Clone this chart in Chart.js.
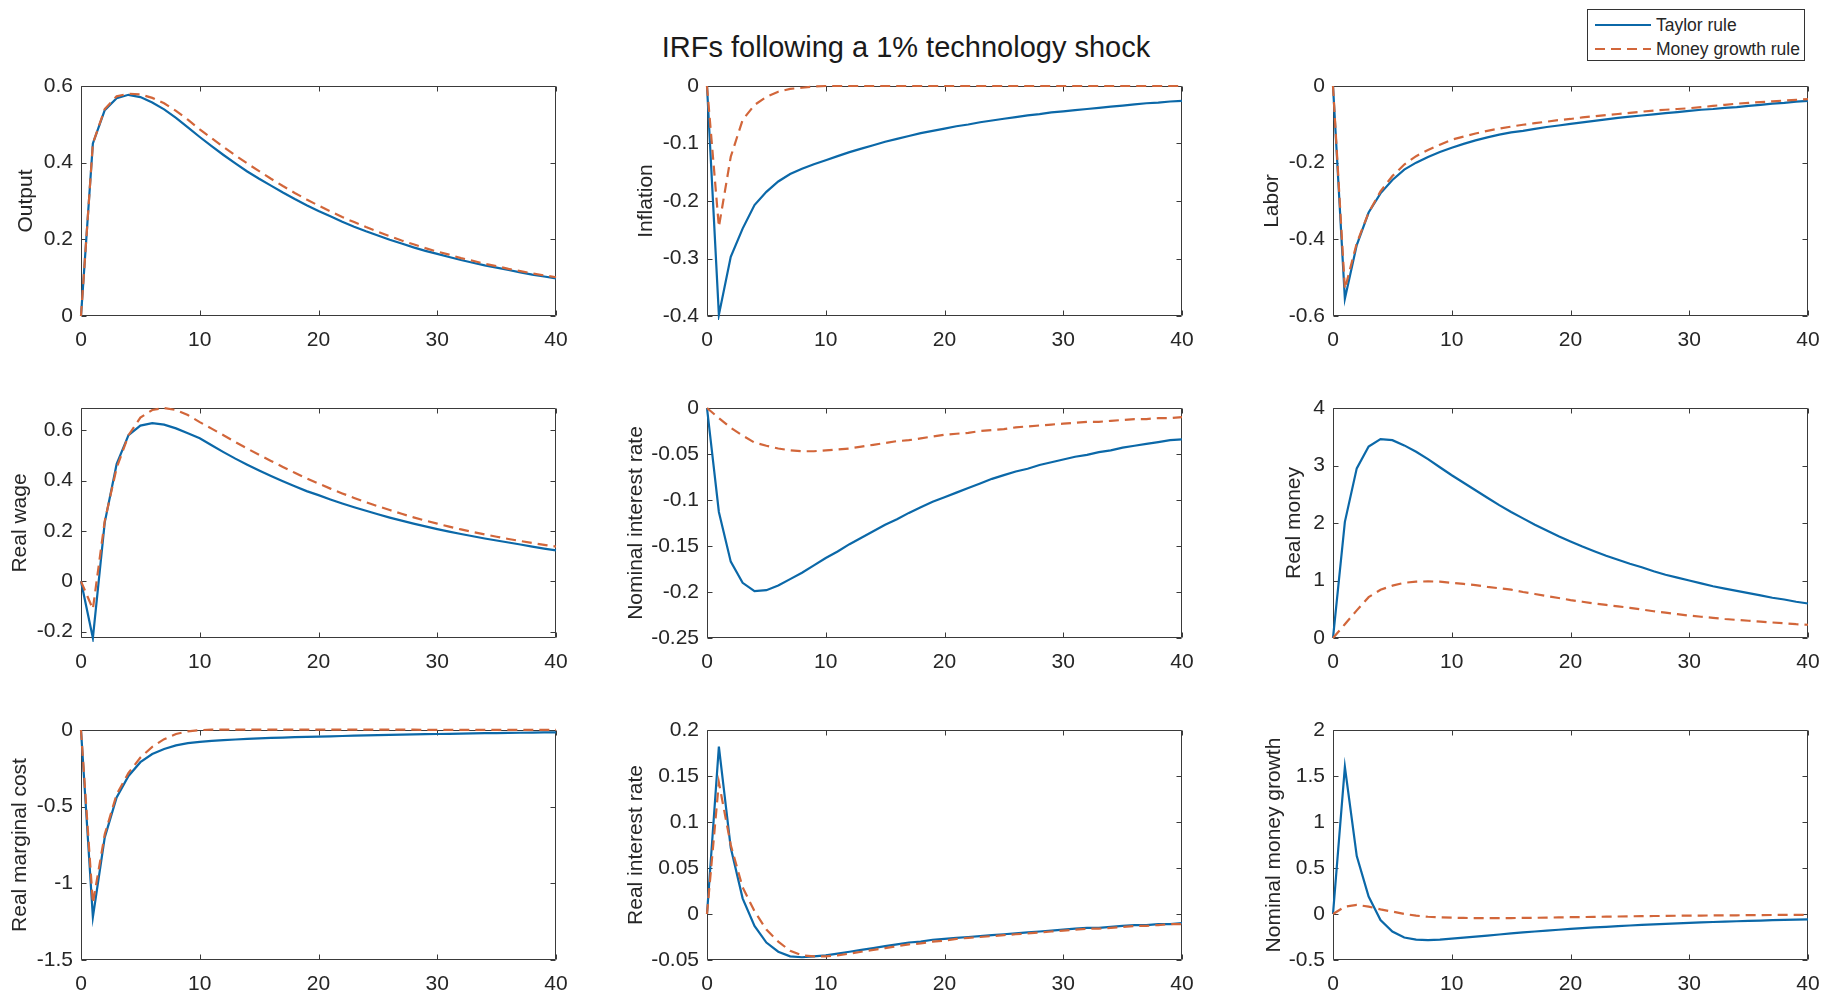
<!DOCTYPE html>
<html>
<head>
<meta charset="utf-8">
<title>IRFs following a 1% technology shock</title>
<script src="https://cdn.jsdelivr.net/npm/chart.js@4.4.1/dist/chart.umd.min.js"></script>
<style>
  html, body { margin: 0; padding: 0; background: #ffffff; }
  #fig { position: relative; width: 1834px; height: 994px; background: #ffffff; overflow: hidden;
         font-family: 'Liberation Sans', Arial, Helvetica, sans-serif; }
  #fig canvas { position: absolute; }
  #title { position: absolute; left: 906px; top: 33px; transform: translateX(-50%);
           font-size: 29px; line-height: 29px; color: #1a1a1a; white-space: nowrap; }
  #legend { position: absolute; left: 1587px; top: 9px; width: 218px; height: 52px;
            border: 1px solid #333333; background: #ffffff; box-sizing: border-box; }
  .lrow { position: absolute; left: 0; height: 20px; width: 216px; }
  .lrow svg { position: absolute; left: 6px; top: 8px; }
  .lrow span { position: absolute; left: 68px; top: 0; font-size: 17.5px; line-height: 20px; color: #262626; white-space: nowrap; }
</style>
</head>
<body>
<div id="fig">
  <div id="title">IRFs following a 1% technology shock</div>
  <div id="legend">
    <div class="lrow" style="top:5px">
      <svg width="58" height="4"><line x1="1" y1="2" x2="57" y2="2" stroke="#0b68a8" stroke-width="2.2"/></svg>
      <span>Taylor rule</span>
    </div>
    <div class="lrow" style="top:29px">
      <svg width="58" height="4"><line x1="1" y1="2" x2="57" y2="2" stroke="#d2663a" stroke-width="2.2" stroke-dasharray="10 6"/></svg>
      <span>Money growth rule</span>
    </div>
  </div>
</div>
<script>
// ---------------- data ----------------
const periods = [0,1,2,3,4,5,6,7,8,9,10,11,12,13,14,15,16,17,18,19,20,21,22,23,24,25,26,27,28,29,30,31,32,33,34,35,36,37,38,39,40];
const xTickValues = [0, 10, 20, 30, 40];
const seriesNames = ['Taylor rule', 'Money growth rule'];

const outputTaylor = [0,0.45,0.537,0.568,0.577,0.571,0.557,0.539,0.517,0.492,0.467,0.443,0.42,0.398,0.377,0.358,0.34,0.322,0.305,0.289,0.274,0.26,0.246,0.233,0.221,0.21,0.199,0.189,0.179,0.17,0.162,0.154,0.146,0.139,0.132,0.126,0.12,0.114,0.108,0.103,0.098];
const outputMoney = [0,0.45,0.54,0.573,0.58,0.578,0.569,0.555,0.535,0.512,0.487,0.464,0.441,0.419,0.398,0.378,0.358,0.339,0.321,0.304,0.288,0.273,0.258,0.245,0.232,0.22,0.208,0.197,0.187,0.177,0.168,0.16,0.151,0.144,0.136,0.13,0.123,0.117,0.111,0.106,0.101];

const inflationTaylor = [0,-0.398,-0.297,-0.248,-0.207,-0.184,-0.166,-0.153,-0.144,-0.136,-0.129,-0.122,-0.115,-0.109,-0.103,-0.097,-0.092,-0.087,-0.082,-0.078,-0.074,-0.07,-0.067,-0.063,-0.06,-0.057,-0.054,-0.051,-0.049,-0.046,-0.044,-0.042,-0.04,-0.038,-0.036,-0.034,-0.032,-0.03,-0.029,-0.027,-0.026];
const inflationMoney = [0,-0.245,-0.123,-0.059,-0.033,-0.019,-0.01,-0.005,-0.003,-0.001,0,0,0,0,0,0,0,0,0,0,0,0,0,0,0,0,0,0,0,0,0,0,0,0,0,0,0,0,0,0,0];

const laborTaylor = [0,-0.555,-0.415,-0.33,-0.28,-0.245,-0.218,-0.2,-0.185,-0.172,-0.161,-0.151,-0.142,-0.134,-0.127,-0.121,-0.117,-0.112,-0.107,-0.103,-0.099,-0.095,-0.091,-0.087,-0.083,-0.08,-0.077,-0.074,-0.071,-0.068,-0.065,-0.062,-0.06,-0.057,-0.055,-0.052,-0.049,-0.046,-0.044,-0.041,-0.039];
const laborMoney = [0,-0.53,-0.41,-0.33,-0.275,-0.235,-0.205,-0.183,-0.167,-0.153,-0.14,-0.132,-0.124,-0.117,-0.111,-0.106,-0.101,-0.097,-0.093,-0.089,-0.086,-0.082,-0.079,-0.076,-0.073,-0.07,-0.067,-0.064,-0.062,-0.06,-0.058,-0.055,-0.052,-0.049,-0.046,-0.044,-0.042,-0.04,-0.038,-0.036,-0.034];

const realWageTaylor = [0,-0.225,0.234,0.465,0.58,0.618,0.628,0.622,0.607,0.588,0.568,0.54,0.513,0.487,0.463,0.44,0.418,0.397,0.377,0.358,0.342,0.325,0.309,0.294,0.28,0.266,0.253,0.241,0.229,0.218,0.207,0.197,0.188,0.179,0.17,0.162,0.154,0.146,0.138,0.13,0.123];
const realWageMoney = [0,-0.11,0.24,0.45,0.58,0.65,0.68,0.688,0.68,0.66,0.632,0.606,0.58,0.553,0.527,0.502,0.478,0.454,0.431,0.409,0.388,0.368,0.349,0.331,0.314,0.298,0.283,0.268,0.254,0.241,0.229,0.217,0.206,0.196,0.186,0.177,0.168,0.16,0.152,0.145,0.138];

const nominalRateTaylor = [0,-0.113,-0.167,-0.19,-0.199,-0.198,-0.193,-0.186,-0.179,-0.171,-0.163,-0.156,-0.148,-0.141,-0.134,-0.127,-0.121,-0.114,-0.108,-0.102,-0.097,-0.092,-0.087,-0.082,-0.077,-0.073,-0.069,-0.066,-0.062,-0.059,-0.056,-0.053,-0.051,-0.048,-0.046,-0.043,-0.041,-0.039,-0.037,-0.035,-0.034];
const nominalRateMoney = [0,-0.011,-0.0215,-0.03,-0.0376,-0.041,-0.044,-0.046,-0.047,-0.047,-0.046,-0.045,-0.044,-0.042,-0.04,-0.038,-0.036,-0.035,-0.033,-0.031,-0.029,-0.028,-0.027,-0.025,-0.024,-0.023,-0.021,-0.02,-0.019,-0.018,-0.017,-0.016,-0.015,-0.015,-0.014,-0.013,-0.012,-0.012,-0.011,-0.011,-0.01];

const realMoneyTaylor = [0,2.02,2.95,3.33,3.46,3.44,3.35,3.24,3.11,2.97,2.83,2.7,2.57,2.44,2.31,2.19,2.08,1.97,1.87,1.77,1.68,1.59,1.51,1.43,1.36,1.29,1.23,1.16,1.1,1.05,1.0,0.95,0.9,0.86,0.82,0.78,0.74,0.7,0.67,0.63,0.6];
const realMoneyMoney = [0,0.24,0.48,0.71,0.84,0.91,0.96,0.98,0.985,0.98,0.96,0.94,0.92,0.89,0.865,0.84,0.8,0.765,0.73,0.695,0.66,0.63,0.6,0.575,0.55,0.525,0.495,0.465,0.44,0.415,0.39,0.37,0.35,0.33,0.315,0.3,0.285,0.27,0.255,0.24,0.23];

const marginalCostTaylor = [0,-1.22,-0.7,-0.44,-0.3,-0.21,-0.157,-0.124,-0.1,-0.086,-0.077,-0.071,-0.066,-0.062,-0.058,-0.055,-0.052,-0.05,-0.047,-0.045,-0.043,-0.041,-0.039,-0.037,-0.035,-0.034,-0.032,-0.03,-0.029,-0.027,-0.026,-0.025,-0.023,-0.022,-0.021,-0.02,-0.019,-0.018,-0.017,-0.016,-0.015];
const marginalCostMoney = [0,-1.13,-0.68,-0.42,-0.28,-0.18,-0.11,-0.06,-0.026,-0.009,-0.001,0.002,0.003,0.003,0.003,0.003,0.003,0.003,0.003,0.002,0.002,0.002,0.002,0.002,0.002,0.002,0.002,0.002,0.002,0.001,0.001,0.001,0.001,0.001,0.001,0.001,0.001,0.001,0.001,0.001,0.001];

const realRateTaylor = [0,0.182,0.072,0.017,-0.013,-0.031,-0.041,-0.046,-0.047,-0.046,-0.045,-0.043,-0.041,-0.039,-0.037,-0.035,-0.033,-0.031,-0.03,-0.028,-0.027,-0.026,-0.025,-0.024,-0.023,-0.022,-0.021,-0.02,-0.019,-0.018,-0.017,-0.016,-0.015,-0.015,-0.014,-0.013,-0.012,-0.012,-0.011,-0.011,-0.01];
const realRateMoney = [0,0.143,0.075,0.029,0.003,-0.017,-0.03,-0.04,-0.045,-0.046,-0.046,-0.045,-0.043,-0.041,-0.039,-0.037,-0.035,-0.033,-0.032,-0.03,-0.029,-0.027,-0.026,-0.025,-0.024,-0.023,-0.022,-0.021,-0.02,-0.019,-0.018,-0.017,-0.016,-0.016,-0.015,-0.014,-0.013,-0.013,-0.012,-0.011,-0.011];

const moneyGrowthTaylor = [0,1.6,0.63,0.19,-0.066,-0.19,-0.256,-0.278,-0.285,-0.278,-0.267,-0.257,-0.246,-0.235,-0.223,-0.211,-0.2,-0.19,-0.18,-0.171,-0.162,-0.154,-0.146,-0.139,-0.132,-0.125,-0.119,-0.113,-0.107,-0.102,-0.097,-0.092,-0.087,-0.083,-0.079,-0.075,-0.071,-0.067,-0.064,-0.061,-0.058];
const moneyGrowthMoney = [0,0.08,0.1,0.08,0.05,0.026,0,-0.018,-0.03,-0.036,-0.04,-0.043,-0.045,-0.045,-0.045,-0.044,-0.043,-0.041,-0.039,-0.037,-0.035,-0.033,-0.031,-0.029,-0.027,-0.025,-0.024,-0.022,-0.021,-0.019,-0.018,-0.017,-0.016,-0.015,-0.014,-0.013,-0.012,-0.011,-0.01,-0.01,-0.009];

// y-axis ranges and tick labels per panel
const outputRange = [0, 0.6];          const outputTicks = [0, 0.2, 0.4, 0.6];
const inflationRange = [-0.4, 0];      const inflationTicks = [-0.4, -0.3, -0.2, -0.1, 0];
const laborRange = [-0.6, 0];          const laborTicks = [-0.6, -0.4, -0.2, 0];
const realWageRange = [-0.225, 0.688]; const realWageTicks = [-0.2, 0, 0.2, 0.4, 0.6];
const nominalRateRange = [-0.25, 0];   const nominalRateTicks = [-0.25, -0.2, -0.15, -0.1, -0.05, 0];
const realMoneyRange = [0, 4];         const realMoneyTicks = [0, 1, 2, 3, 4];
const marginalCostRange = [-1.5, 0];   const marginalCostTicks = [-1.5, -1, -0.5, 0];
const realRateRange = [-0.05, 0.2];    const realRateTicks = [-0.05, 0, 0.05, 0.1, 0.15, 0.2];
const moneyGrowthRange = [-0.5, 2];    const moneyGrowthTicks = [-0.5, 0, 0.5, 1, 1.5, 2];

// ---------------- layout & style ----------------
const FONT = "'Liberation Sans', Arial, Helvetica, sans-serif";
const BLUE = '#0b68a8';
const ORANGE = '#d2663a';
const AXIS_COLOR = '#3a3a3a';
const TEXT_COLOR = '#262626';
const COL_LEFT = [81, 707, 1333];
const ROW_TOP = [86, 408, 730];
const PLOT_W = 475, PLOT_H = 230;
const PAD_TOP = 16, PAD_RIGHT = 26, X_AXIS_H = 44;
const TICK_LEN = 5;

const panels = [
  { label: 'Output',                 a: outputTaylor,       b: outputMoney,       range: outputRange,       ticks: outputTicks,       col: 0, row: 0, labelOffset: 54 },
  { label: 'Inflation',              a: inflationTaylor,    b: inflationMoney,    range: inflationRange,    ticks: inflationTicks,    col: 1, row: 0, labelOffset: 60 },
  { label: 'Labor',                  a: laborTaylor,        b: laborMoney,        range: laborRange,        ticks: laborTicks,        col: 2, row: 0, labelOffset: 60 },
  { label: 'Real wage',              a: realWageTaylor,     b: realWageMoney,     range: realWageRange,     ticks: realWageTicks,     col: 0, row: 1, labelOffset: 60 },
  { label: 'Nominal interest rate',  a: nominalRateTaylor,  b: nominalRateMoney,  range: nominalRateRange,  ticks: nominalRateTicks,  col: 1, row: 1, labelOffset: 70 },
  { label: 'Real money',             a: realMoneyTaylor,    b: realMoneyMoney,    range: realMoneyRange,    ticks: realMoneyTicks,    col: 2, row: 1, labelOffset: 38 },
  { label: 'Real marginal cost',     a: marginalCostTaylor, b: marginalCostMoney, range: marginalCostRange, ticks: marginalCostTicks, col: 0, row: 2, labelOffset: 60 },
  { label: 'Real interest rate',     a: realRateTaylor,     b: realRateMoney,     range: realRateRange,     ticks: realRateTicks,     col: 1, row: 2, labelOffset: 70 },
  { label: 'Nominal money growth',   a: moneyGrowthTaylor,  b: moneyGrowthMoney,  range: moneyGrowthRange,  ticks: moneyGrowthTicks,  col: 2, row: 2, labelOffset: 58 }
];

// MATLAB-like box with inward tick marks on all four sides
const boxPlugin = {
  id: 'matlabBox',
  beforeDatasetsDraw(chart) {
    const { ctx, chartArea: a, scales: { x, y } } = chart;
    const L = Math.round(a.left) + 0.5, R = Math.round(a.right) - 0.5;
    const T = Math.round(a.top) + 0.5, B = Math.round(a.bottom) - 0.5;
    ctx.save();
    ctx.strokeStyle = AXIS_COLOR;
    ctx.lineWidth = 1;
    ctx.beginPath();
    ctx.rect(L, T, R - L, B - T);
    x.ticks.forEach(t => {
      const px = Math.round(x.getPixelForValue(t.value)) + 0.5;
      ctx.moveTo(px, B); ctx.lineTo(px, B - TICK_LEN);
      ctx.moveTo(px, T); ctx.lineTo(px, T + TICK_LEN);
    });
    y.ticks.forEach(t => {
      const py = Math.round(y.getPixelForValue(t.value)) + 0.5;
      ctx.moveTo(L, py); ctx.lineTo(L + TICK_LEN, py);
      ctx.moveTo(R, py); ctx.lineTo(R - TICK_LEN, py);
    });
    ctx.stroke();
    ctx.restore();
  }
};

function zeroPadding(s) { s.paddingLeft = 0; s.paddingRight = 0; s.paddingTop = 0; s.paddingBottom = 0; }

const fig = document.getElementById('fig');
panels.forEach(p => {
  const yW = Math.round(p.labelOffset + 12.6);
  const w = yW + PLOT_W + PAD_RIGHT;
  const h = PAD_TOP + PLOT_H + X_AXIS_H;
  const canvas = document.createElement('canvas');
  canvas.width = w; canvas.height = h;
  canvas.style.width = w + 'px'; canvas.style.height = h + 'px';
  canvas.style.left = (COL_LEFT[p.col] - yW) + 'px';
  canvas.style.top = (ROW_TOP[p.row] - PAD_TOP) + 'px';
  fig.appendChild(canvas);

  new Chart(canvas, {
    type: 'line',
    data: {
      datasets: [
        { label: seriesNames[0], data: periods.map((t, i) => ({ x: t, y: p.a[i] })),
          borderColor: BLUE, borderWidth: 2.2, pointRadius: 0, tension: 0, fill: false, order: 2, clip: 4 },
        { label: seriesNames[1], data: periods.map((t, i) => ({ x: t, y: p.b[i] })),
          borderColor: ORANGE, borderWidth: 2.2, borderDash: [10, 6], pointRadius: 0, tension: 0, fill: false, order: 1, clip: 4 }
      ]
    },
    options: {
      responsive: false,
      animation: false,
      devicePixelRatio: 1,
      events: [],
      layout: { padding: { top: PAD_TOP, right: PAD_RIGHT, left: 0, bottom: 0 } },
      plugins: { legend: { display: false }, tooltip: { enabled: false }, title: { display: false } },
      scales: {
        x: {
          type: 'linear', position: 'bottom', min: 0, max: 40,
          grid: { display: false, drawTicks: false },
          border: { display: false },
          ticks: { font: { family: FONT, size: 21 }, color: TEXT_COLOR, padding: 12, maxRotation: 0, autoSkip: false,
                   callback: v => String(v) },
          afterBuildTicks: s => { s.ticks = xTickValues.map(v => ({ value: v })); },
          afterFit: s => { s.height = X_AXIS_H; zeroPadding(s); }
        },
        y: {
          type: 'linear', position: 'left', min: p.range[0], max: p.range[1],
          grid: { display: false, drawTicks: false },
          border: { display: false },
          ticks: { font: { family: FONT, size: 21 }, color: TEXT_COLOR, padding: 8, autoSkip: false,
                   callback: v => String(v) },
          title: { display: true, text: p.label, font: { family: FONT, size: 21 }, color: TEXT_COLOR,
                   padding: { top: 0, bottom: 0 } },
          afterBuildTicks: s => { s.ticks = p.ticks.map(v => ({ value: v })); },
          afterFit: s => { s.width = yW; zeroPadding(s); }
        }
      }
    },
    plugins: [boxPlugin]
  });
});
</script>
</body>
</html>
